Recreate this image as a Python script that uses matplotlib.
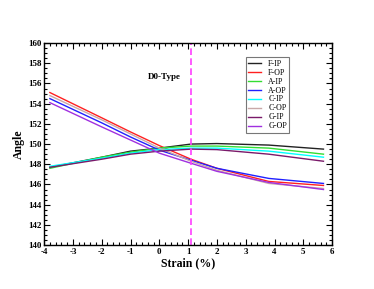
import matplotlib
matplotlib.use("Agg")
import matplotlib.pyplot as plt
from matplotlib.ticker import MultipleLocator

strain = [-3.8, -2, -1, 0, 1.1, 2, 3.8, 5.7]
f_ip = [147.7, 148.7, 149.3, 149.6, 150.0, 150.05, 149.9, 149.5]
f_op = [155.1, 152.6, 151.2, 149.85, 148.5, 147.6, 146.3, 145.9]
a_ip = [147.6, 148.7, 149.2, 149.6, 149.8, 149.8, 149.6, 149.0]
a_op = [154.5, 152.1, 150.7, 149.4, 148.4, 147.6, 146.6, 146.1]
c_ip = [147.8, 148.6, 149.1, 149.45, 149.6, 149.6, 149.3, 148.7]
c_op = [154.8, 152.4, 151.0, 149.6, 148.3, 147.4, 146.1, 145.6]
g_ip = [147.7, 148.5, 149.0, 149.3, 149.5, 149.45, 149.0, 148.3]
g_op = [154.1, 151.7, 150.4, 149.1, 148.1, 147.3, 146.2, 145.5]

labels = ["F-IP", "F-OP", "A-IP", "A-OP", "C-IP", "C-OP", "G-IP", "G-OP"]
series = [f_ip, f_op, a_ip, a_op, c_ip, c_op, g_ip, g_op]
colors = ["#222222", "#ff2020", "#33dd33", "#2020ff", "#00ffff",
          "#c8a8a8", "#7a1a6a", "#a030e0"]
vline_x = 1.1

plt.rcParams['font.family'] = ['Liberation Serif', 'DejaVu Serif']
plt.rcParams['axes.unicode_minus'] = False

fig = plt.figure(figsize=(3.74, 2.89), dpi=100)
ax = fig.add_axes([0.118, 0.152, 0.770, 0.699])

for lab, ys, c in zip(labels, series, colors):
    ax.plot(strain, ys, color=c, lw=1.0, label=lab)

ax.axvline(vline_x, color="#ff40ff", lw=1.2, ls=(0, (4, 2)))
ax.text(-0.39, 156.6, "D0-Type", fontsize=6.5, fontweight="bold",
        ha="left", va="center")

ax.set_xlim(-4, 6)
ax.set_ylim(140, 160)
ax.xaxis.set_major_locator(MultipleLocator(1))
ax.xaxis.set_minor_locator(MultipleLocator(0.2))
ax.yaxis.set_major_locator(MultipleLocator(2))
ax.yaxis.set_minor_locator(MultipleLocator(0.5))
ax.tick_params(which="both", direction="in", top=True, right=True,
               labelsize=6.5, width=0.8, pad=2)
ax.tick_params(which="major", length=4)
ax.tick_params(which="minor", length=2)
for lbl in ax.get_xticklabels() + ax.get_yticklabels():
    lbl.set_fontweight("bold")
for s in ax.spines.values():
    s.set_linewidth(1.0)

ax.set_xlabel("Strain (%)", fontsize=8.5, fontweight="bold", labelpad=1)
ax.set_ylabel("Angle", fontsize=8.5, fontweight="bold", labelpad=2)

leg = ax.legend(loc="upper left", bbox_to_anchor=(0.70, 0.93), fontsize=5.8,
                frameon=True, fancybox=False, edgecolor="#555555",
                handlelength=1.6, handletextpad=0.9, labelspacing=0.12,
                borderpad=0.3, borderaxespad=0)
leg.get_frame().set_linewidth(0.8)

fig.savefig("out.png", dpi=100)
